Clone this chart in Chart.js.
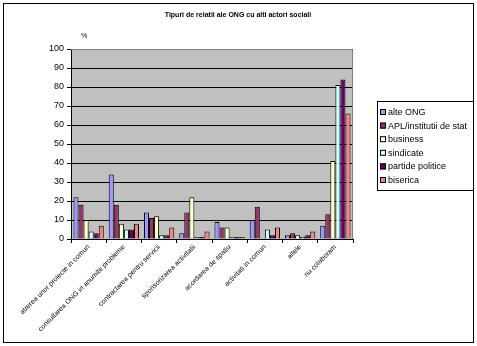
<!DOCTYPE html>
<html>
<head>
<meta charset="utf-8">
<script src="https://cdn.jsdelivr.net/npm/chart.js@4.4.0/dist/chart.umd.min.js"></script>
<style>
  html, body { margin: 0; padding: 0; background: #fff; }
  #wrap { width: 477px; height: 346px; }
</style>
</head>
<body>
<div id="wrap"><canvas id="chart" width="477" height="346"></canvas></div>
<script>
// Data
const categories = [
  'atrerea unor proiecte in comun',
  'consultarea ONG in anumite probleme',
  'contractarea pentru servicii',
  'sponsorizarea activitatii',
  'acordarea de spatiu',
  'activitati in comun',
  'altele',
  'nu colaboram'
];
const seriesNames = ['alte ONG', 'APL/institutii de stat', 'business', 'sindicate', 'partide politice', 'biserica'];
const alteOng   = [22, 34, 14, 3, 9, 10, 2, 7];
const apl       = [18, 18, 11, 14, 6, 17, 3, 13];
const business  = [10, 8, 12, 22, 6, 0, 2, 41];
const sindicate = [4, 5, 2, 1, 1, 5, 1, 81];
const partide   = [3, 5, 2, 1, 1, 2, 2, 84];
const biserica  = [7, 8, 6, 4, 1, 6, 4, 66];
const yTicks = [0, 10, 20, 30, 40, 50, 60, 70, 80, 90, 100];

const COLORS = ['#9999FF', '#993366', '#FFFFCC', '#CCFFFF', '#660066', '#FF8080'];
const FONT = 'Liberation Sans, Arial, sans-serif';

const seriesValues = [alteOng, apl, business, sindicate, partide, biserica];

// plot background, frame, title, "%" label and boxed legend
const decor = {
  id: 'decor',
  beforeDraw(chart) {
    const { ctx, chartArea: a } = chart;
    ctx.save();
    ctx.fillStyle = '#fff';
    ctx.fillRect(0, 0, chart.width, chart.height);
    ctx.fillStyle = '#C0C0C0';
    ctx.fillRect(a.left, a.top, a.right - a.left, a.bottom - a.top);
    ctx.restore();
  },
  afterDraw(chart) {
    const { ctx, chartArea: a } = chart;
    ctx.save();
    // grey plot frame top/right
    ctx.strokeStyle = '#808080';
    ctx.lineWidth = 1;
    ctx.beginPath();
    ctx.moveTo(a.left, a.top + 0.5);
    ctx.lineTo(a.right - 0.5, a.top + 0.5);
    ctx.lineTo(a.right - 0.5, a.bottom);
    ctx.stroke();

    // outer frame
    ctx.strokeStyle = '#000';
    ctx.strokeRect(3.5, 3.5, 470, 339);

    // title
    ctx.fillStyle = '#000';
    ctx.textAlign = 'center';
    ctx.textBaseline = 'middle';
    ctx.font = 'bold 7px ' + FONT;
    ctx.fillText('Tipuri de relatii ale ONG cu alti actori sociali', 238, 15);

    // unit label
    ctx.font = '7px ' + FONT;
    ctx.fillText('%', 84, 36);

    // legend
    const lx = 377, ly = 101, lw = 96, lh = 89;
    ctx.fillStyle = '#fff';
    ctx.fillRect(lx, ly, lw, lh);
    ctx.strokeStyle = '#000';
    ctx.strokeRect(lx + 0.5, ly + 0.5, lw, lh);
    ctx.font = '9px ' + FONT;
    ctx.textAlign = 'left';
    chart.data.datasets.forEach((ds, i) => {
      const y = ly + 11 + i * 13.6;
      ctx.fillStyle = ds.backgroundColor;
      ctx.fillRect(lx + 3, y - 3, 6, 6);
      ctx.strokeStyle = '#000';
      ctx.strokeRect(lx + 3.5, y - 2.5, 5, 5);
      ctx.fillStyle = '#000';
      ctx.fillText(ds.label, lx + 11, y + 0.5);
    });
    ctx.restore();
  }
};

new Chart(document.getElementById('chart'), {
  type: 'bar',
  data: {
    labels: categories,
    datasets: seriesNames.map((name, i) => ({
      label: name,
      data: seriesValues[i],
      backgroundColor: COLORS[i],
      borderColor: '#000',
      borderWidth: 1,
      categoryPercentage: 0.86,
      barPercentage: 1.0
    }))
  },
  options: {
    responsive: false,
    animation: false,
    devicePixelRatio: 1,
    layout: { padding: { left: 0, top: 49, right: 124, bottom: 0 } },
    plugins: {
      legend: { display: false },
      title: { display: false },
      tooltip: { enabled: false }
    },
    scales: {
      x: {
        offset: true,
        afterFit: s => { s.height = 107; },
        grid: { display: true, drawOnChartArea: false, drawTicks: true, tickLength: 4, color: '#000', offset: true },
        border: { display: true, color: '#000' },
        ticks: {
          autoSkip: false, minRotation: 45, maxRotation: 45, padding: 0,
          color: '#000', font: { family: FONT, size: 7 }
        }
      },
      y: {
        min: 0, max: 100,
        afterFit: s => { s.width = 71; },
        afterBuildTicks: s => { s.ticks = yTicks.map(v => ({ value: v })); },
        grid: { color: '#000', tickColor: '#000', tickLength: 4, lineWidth: 1 },
        border: { display: true, color: '#000' },
        ticks: { color: '#000', padding: 3, font: { family: FONT, size: 9 } }
      }
    }
  },
  plugins: [decor]
});
</script>
</body>
</html>
